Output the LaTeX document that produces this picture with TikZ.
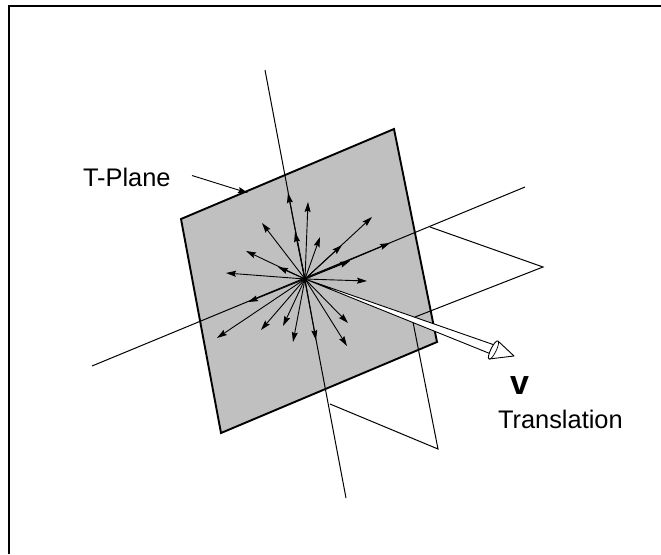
\documentclass[tikz,border=0pt]{standalone}
\usepackage{fontspec}
\setmainfont{Liberation Sans}
\usetikzlibrary{arrows.meta}
\tikzset{
  lbl/.style={anchor=base west,inner sep=0pt,outer sep=0pt,font=\fontsize{25.4}{28}\selectfont},
  thinline/.style={line width=1pt,black},
  ray/.style={line width=0.9pt,black,-{Stealth[length=10pt,width=6pt,inset=1.5pt]}},
  plane/.style={fill={rgb,255:red,192;green,192;blue,192},draw=black,line width=1.9pt,line join=miter},
  shaft/.style={fill=white,draw=black,line width=0.9pt,line join=round}
}
\begin{document}
\begin{tikzpicture}[x=1pt,y=-1pt]
\useasboundingbox (0,0) rectangle (661,554);
\draw[line width=2pt] (8.5,554) -- (8.5,6) -- (661,6);
% plane
\coordinate (p1) at (181,219);
\coordinate (p2) at (394,129);
\coordinate (p3) at (437,342);
\coordinate (p4) at (221,433);
\coordinate (c) at (305,279);
\draw[plane] (p1) -- (p2) -- (p3) -- (p4) -- cycle;
% axes
\coordinate (vt) at (265,70);
\coordinate (vb) at (346,498);
\coordinate (hl) at (92,366);
\coordinate (hr) at (525,187);
\draw[thinline] (vt) -- (vb);
\draw[thinline] (hl) -- (hr);
% flanges
\coordinate (a1) at (430,227);
\coordinate (a2) at (543,267);
\coordinate (a3) at (415,317);
\coordinate (b1) at (413,322);
\coordinate (b2) at (438,449);
\coordinate (b3) at (330,404);
\draw[thinline,line join=miter] (a1) -- (a2) -- (a3);
\draw[thinline,line join=miter] (b1) -- (b2) -- (b3);
% T-plane pointer
\node[lbl] (tp) at (83,186) {T-Plane};
\coordinate (ts) at (192,175.5);
\coordinate (te) at (248,193);
\draw[ray] (ts) -- (te);
% rays
\foreach \n/\x/\y in {r1/308/202,r2/372/217,r2b/342/245,r3/320/237,r4/288/193,r4b/295/232,
  r5/262/223,r6/246/251,r6b/278/267,r7/226/273,r8/367/281,r9/390/243,r9b/350/261,
  r10/217/338,r11/248/302,r12/261/330,r13/283/326,r14/293/342,r15/316/340,r16/347/346,r17/348/323}{
  \coordinate (\n) at (\x,\y);
  \draw[ray] (c) -- (\n);
}
% translation arrow
\coordinate (s1) at (494.5,345);
\coordinate (s2) at (491,354);
\coordinate (tip) at (514,356);
\coordinate (k1) at (498,341);
\coordinate (k2) at (489,359);
\draw[shaft] (c) -- (s1) -- (s2) -- cycle;
\draw[shaft] (k1) -- (tip) -- (k2) .. controls (486,357) and (495,339) .. (k1);
\draw[line width=0.7pt] (k1) .. controls (501,343) and (492,361) .. (k2);
% labels
\node[lbl,font=\fontsize{34}{36}\selectfont\bfseries] (v) at (510,394) {v};
\node[lbl] (tr) at (498,428) {Translation};
\end{tikzpicture}
\end{document}
